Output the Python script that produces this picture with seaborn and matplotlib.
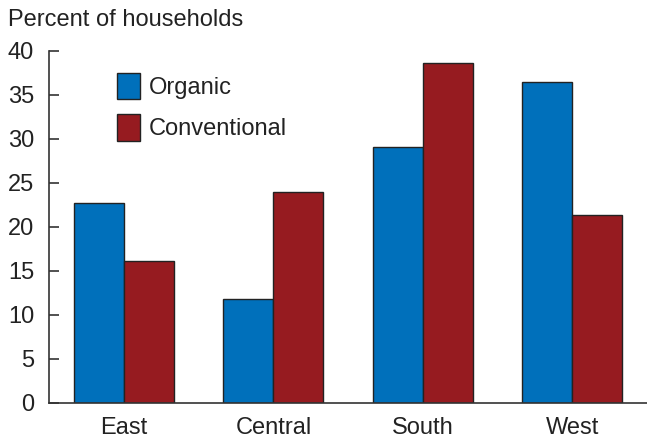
import matplotlib
matplotlib.use("Agg")
import matplotlib.pyplot as plt
import seaborn as sns
import pandas as pd

regions = ["East", "Central", "South", "West"]
organic = [22.7, 11.8, 29.1, 36.4]
conventional = [16.1, 23.9, 38.6, 21.3]
series_names = ["Organic", "Conventional"]
y_ticks = [0, 5, 10, 15, 20, 25, 30, 35, 40]

sns.set_style("white")
plt.rcParams["font.family"] = ["Liberation Sans", "DejaVu Sans"]

df = pd.DataFrame({
    "Region": regions * 2,
    "Percent": organic + conventional,
    "Type": [series_names[0]] * len(regions) + [series_names[1]] * len(regions),
})

palette = {"Organic": "#0070BB", "Conventional": "#961B20"}

fig = plt.figure(figsize=(6.47, 4.42), dpi=100)
ax = fig.add_axes([0.0762, 0.0889, 0.9238, 0.7964])

sns.barplot(data=df, x="Region", y="Percent", hue="Type", order=regions,
            hue_order=series_names, palette=palette, saturation=1,
            width=0.67, edgecolor="#222222", linewidth=1.0, ax=ax)

ax.set_xlim(-0.5, 3.5)
ax.set_ylim(0, 40)
ax.set_yticks(y_ticks)
ax.set_xlabel("")
ax.set_ylabel("")

for side in ("top", "right"):
    ax.spines[side].set_visible(False)
for side in ("left", "bottom"):
    ax.spines[side].set_color("#333333")
    ax.spines[side].set_linewidth(1.2)

ax.tick_params(axis="y", direction="in", length=7, width=1.2, color="#333333",
               pad=11, labelsize=17, labelcolor="#222222", left=True)
ax.tick_params(axis="x", length=0, pad=10, labelsize=17, labelcolor="#222222")

leg = ax.legend(loc="upper left", bbox_to_anchor=(0.113, 0.937), frameon=False,
                fontsize=17, handlelength=0.97, handleheight=1.35,
                labelspacing=0.63, handletextpad=0.38, borderpad=0,
                borderaxespad=0)
for h in leg.legend_handles:
    h.set_edgecolor("#222222")
    h.set_linewidth(1.0)
for t in leg.get_texts():
    t.set_color("#222222")

fig.text(0.012, 0.98, "Percent of households", ha="left", va="top",
         fontsize=17, color="#222222")

fig.savefig("out.png", dpi=100)
